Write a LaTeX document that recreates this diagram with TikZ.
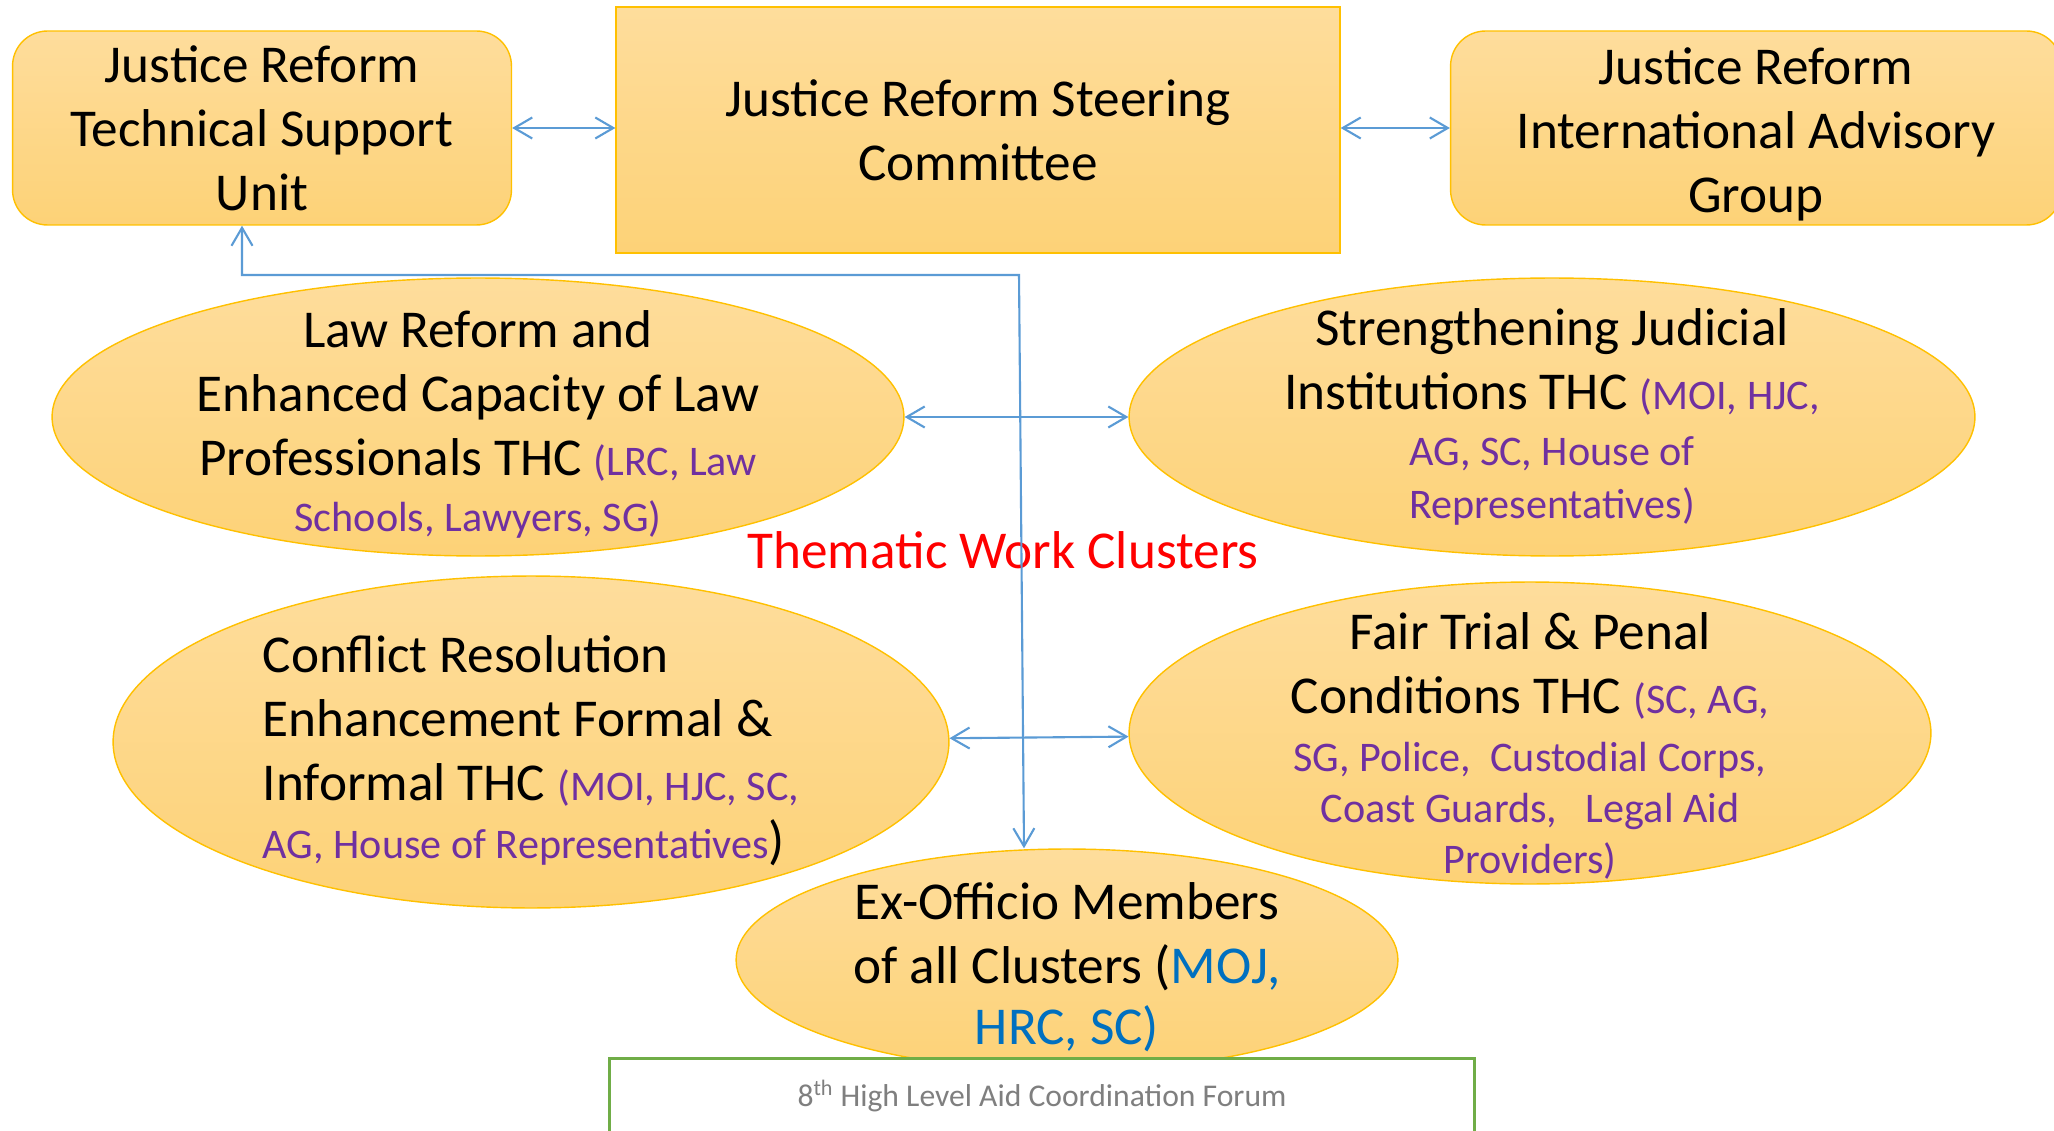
\documentclass[tikz,border=0pt]{standalone}
\usepackage{fontspec}
\setmainfont{Carlito}
\usetikzlibrary{shapes.geometric,arrows.meta}
\definecolor{goldline}{HTML}{FFC000}
\definecolor{goldtop}{HTML}{FEDD9C}
\definecolor{goldbot}{HTML}{FDD277}
\definecolor{linkblue}{HTML}{5B9BD5}
\definecolor{thcpurple}{HTML}{7030A0}
\definecolor{exoblue}{HTML}{0070C0}
\definecolor{forumgreen}{HTML}{70AD47}
\definecolor{forumgrey}{HTML}{7F7F7F}
\newcommand{\pur}[1]{{\color{thcpurple}\fontsize{24}{30}\selectfont #1}}
\newcommand{\blu}[1]{\textcolor{exoblue}{#1}}
\newcommand{\lift}[1]{\rule{0pt}{#1}}

\begin{document}
\begin{tikzpicture}
  [x=0.02cm,y=-0.02cm,
   every node/.style={font=\fontsize{30.3}{36.4}\selectfont,align=center,inner sep=0pt},
   unit/.style={rectangle,rounded corners=0.7cm,draw=goldline,top color=goldtop,bottom color=goldbot,line width=0.8pt,minimum height=3.88cm},
   cluster/.style={ellipse,draw=goldline,top color=goldtop,bottom color=goldbot,line width=0.8pt,inner sep=-3cm},
   link/.style={draw=linkblue,line width=1.2pt,{Straight Barb[length=0.36cm,width=0.42cm]}-{Straight Barb[length=0.36cm,width=0.42cm]}}]
  \useasboundingbox (0,0) rectangle (2054,1131);

  % top row
  \node[unit,minimum width=9.98cm] (tsu) at (262,128) {Justice Reform\\Technical Support\\Unit};
  \node[unit,sharp corners,minimum width=14.48cm,minimum height=4.92cm] (jrsc) at (978,130) {Justice Reform Steering\\Committee};
  \node[unit,minimum width=12.22cm] (iag) at (1756,128) {\lift{28pt}Justice Reform\\International Advisory\\Group};

  % clusters
  \node[cluster,minimum width=17.04cm,minimum height=5.56cm] (law) at (478,417) {\lift{29pt}Law Reform and\\Enhanced Capacity of Law\\Professionals THC \pur{(LRC, Law}\\[-4.5pt]\pur{Schools, Lawyers, SG)}};
  \node[cluster,minimum width=16.92cm,minimum height=5.56cm] (sji) at (1552,417) {Strengthening Judicial\\Institutions THC \pur{(MOI, HJC,}\\[-4.5pt]\pur{AG, SC, House of}\\[-6.6pt]\pur{Representatives)}};
  \node[cluster,minimum width=16.72cm,minimum height=6.64cm,align=left] (crm) at (531,742) {\lift{31pt}Conflict Resolution\\Enhancement Formal \&\\Informal THC \pur{(MOI, HJC, SC,}\\[-3.6pt]\pur{AG, House of Representatives})};
  \node[cluster,minimum width=16.04cm,minimum height=6.04cm] (ftp) at (1530,733) {\lift{36pt}Fair Trial \& Penal\\Conditions THC \pur{(SC, AG,}\\[-3.6pt]\pur{SG, Police,\ \ Custodial Corps,}\\[-7.3pt]\pur{Coast Guards,\ \ \ Legal Aid}\\[-7.3pt]\pur{Providers)}};
  \node[cluster,minimum width=13.24cm,minimum height=4.44cm] (exo) at (1067,960) {\lift{29pt}Ex-Officio Members\\of all Clusters (\blu{MOJ,}\\[-1.7pt]\blu{HRC, SC)}};
  \node[text=red] (twc) at (1003,550) {Thematic Work Clusters};

  % footer
  \node[draw=forumgreen,fill=white,line width=1.5pt,minimum width=17.3cm,minimum height=2cm,anchor=north] (forum) at (1042,1057) {};
  \node[text=forumgrey,font=\fontsize{18}{22}\selectfont] (forumtxt) at (1042,1096) {8\textsuperscript{th} High Level Aid Coordination Forum};

  % links
  \coordinate (tsuin) at ([xshift=-0.4cm]tsu.south);
  \coordinate (bendr) at (1019,275);
  \coordinate (exoin) at ([xshift=-0.86cm]exo.north);
  \draw[link] (tsu.east) -- (tsu.east -| jrsc.west);
  \draw[link] (jrsc.east |- iag.west) -- (iag.west);
  \draw[link] (law) -- (sji);
  \draw[link] (crm) -- (ftp);
  \draw[link] (tsuin) -- (tsuin |- bendr) -- (bendr) -- (exoin);
\end{tikzpicture}
\end{document}
